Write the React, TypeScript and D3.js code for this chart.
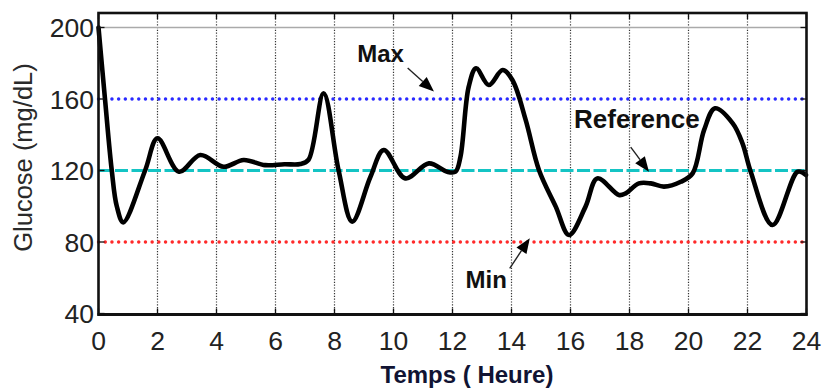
import React from "react";
import * as d3 from "d3";

// Glucose readings over one day
const hours = [
  0, 0.22, 0.45, 0.62, 0.84, 1.58, 2.0, 2.73, 3.45, 4.24, 4.92, 5.65, 6.3,
  6.84, 7.12, 7.63, 8.14, 8.6, 9.22, 9.67, 10.4, 11.2, 11.82, 12.1,
  12.27, 12.55, 12.8, 13.23, 13.7, 14.03, 14.48, 14.93, 15.5, 15.95, 16.51,
  16.91, 17.64, 17.87, 18.32, 18.72, 19.17, 19.74, 20.14, 20.53, 20.9, 21.5,
  21.83, 22.11, 22.85, 23.7, 23.98,
];
const glucose = [
  200, 160, 120, 100, 91, 120, 138, 119.3, 128.7, 122.1, 125.9, 123, 123.5,
  123.6, 126, 163.2, 120, 91.4, 116.5, 131.5, 115.6, 124, 119.3,
  119.3, 127.7, 166.9, 177.2, 167.8, 176.2, 170.6, 148.3, 120.3, 99.8, 83.9,
  99.8, 115.6, 106.3, 107.2, 112.8, 112.8, 111, 113.7, 118.4, 142.7, 154.8,
  146.4, 135.2, 119.3, 89.5, 119.3, 117.5,
];

const xTicks = [0, 2, 4, 6, 8, 10, 12, 14, 16, 18, 20, 22, 24];
const yTicks = [40, 80, 120, 160, 200];

const maxLevel = 160;
const refLevel = 120;
const minLevel = 80;

// Annotation labels: text anchor and arrow (from -> to), in data units
const annotations = [
  { text: "Max", size: 24, tx: 8.77, tv: 180.7, fx: 10.48, fv: 177.3, ax: 11.37, av: 164.2 },
  { text: "Reference", size: 26, tx: 16.12, tv: 143.8, fx: 18.04, fv: 133.1, ax: 18.66, av: 119.3 },
  { text: "Min", size: 24, tx: 12.44, tv: 54.3, fx: 13.94, fv: 65.3, ax: 14.62, av: 82.1 },
];

const W = 827;
const H = 390;
const left = 98.5;
const right = 806.5;
const top = 13;
const bottom = 314.5;

export default function App() {
  const x = d3.scaleLinear().domain([0, 24]).range([left, right]);
  const y = d3.scaleLinear().domain([40, 200]).range([313.5, 27.5]);

  const pts = hours.map((h, i) => [h, glucose[i]] as [number, number]);
  const line = d3
    .line<[number, number]>()
    .x((d) => x(d[0]))
    .y((d) => y(d[1]))
    .curve(d3.curveCatmullRom.alpha(0.5));

  const arrow = (fx: number, fy: number, tx: number, ty: number) => {
    const dx = tx - fx;
    const dy = ty - fy;
    const len = Math.hypot(dx, dy);
    const ux = dx / len;
    const uy = dy / len;
    const hl = 15;
    const hw = 6;
    const bx = tx - ux * hl;
    const by = ty - uy * hl;
    const head = `M${tx},${ty}L${bx - uy * hw},${by + ux * hw}L${bx + uy * hw},${by - ux * hw}Z`;
    return { bx, by, head };
  };

  return (
    <svg
      width={W}
      height={H}
      style={{ position: "absolute", left: 0, top: 0, background: "#fff" }}
      fontFamily="'Liberation Sans', Arial, sans-serif"
    >
      {/* vertical dotted grid */}
      {xTicks.slice(1, -1).map((t) => (
        <line
          key={"g" + t}
          x1={x(t)}
          x2={x(t)}
          y1={top}
          y2={bottom}
          stroke="#333"
          strokeWidth={1.2}
          strokeDasharray="1.2 1.6"
        />
      ))}
      {/* light line at 200 */}
      <line x1={left} x2={right} y1={y(200)} y2={y(200)} stroke="#aaa" strokeWidth={1.5} />

      {/* threshold lines */}
      <line
        x1={left}
        x2={right}
        y1={y(maxLevel)}
        y2={y(maxLevel)}
        stroke="#2a2aff"
        strokeWidth={3.4}
        strokeLinecap="round"
        strokeDasharray="0.1 6.6"
      />
      <line
        x1={left}
        x2={right}
        y1={y(refLevel)}
        y2={y(refLevel)}
        stroke="#14c4c4"
        strokeWidth={3}
        strokeDasharray="13 3.5"
      />
      <line
        x1={left}
        x2={right}
        y1={y(minLevel)}
        y2={y(minLevel)}
        stroke="#ff2a2a"
        strokeWidth={3.4}
        strokeLinecap="round"
        strokeDasharray="0.1 6.6"
      />

      {/* glucose curve */}
      <path
        d={line(pts) || ""}
        fill="none"
        stroke="#000"
        strokeWidth={4.6}
        strokeLinejoin="round"
        strokeLinecap="round"
      />

      {/* frame */}
      <rect
        x={left}
        y={top}
        width={right - left}
        height={bottom - top}
        fill="none"
        stroke="#111"
        strokeWidth={2.6}
      />
      <line x1={left - 1} x2={right + 1} y1={bottom} y2={bottom} stroke="#111" strokeWidth={3.2} />

      {/* ticks */}
      {xTicks.map((t) => (
        <g key={"xt" + t}>
          <line x1={x(t)} x2={x(t)} y1={bottom} y2={bottom - 6} stroke="#111" strokeWidth={1.3} />
          <line x1={x(t)} x2={x(t)} y1={top} y2={top + 6} stroke="#111" strokeWidth={1.3} />
        </g>
      ))}
      {yTicks.map((t) => (
        <g key={"yt" + t}>
          <line x1={left} x2={left + 6} y1={y(t)} y2={y(t)} stroke="#111" strokeWidth={1.3} />
          <line x1={right} x2={right - 6} y1={y(t)} y2={y(t)} stroke="#111" strokeWidth={1.3} />
        </g>
      ))}

      {/* tick labels */}
      {xTicks.map((t) => (
        <text key={"xl" + t} x={x(t)} y={350} textAnchor="middle" fontSize={26.5} fill="#222">
          {t}
        </text>
      ))}
      {yTicks.map((t) => (
        <text
          key={"yl" + t}
          x={94}
          y={y(t) + 9.5}
          textAnchor="end"
          fontSize={26.5}
          fill="#222"
        >
          {t}
        </text>
      ))}

      {/* axis titles */}
      <text
        transform={`translate(32,157.5) rotate(-90)`}
        textAnchor="middle"
        fontSize={25.5}
        fill="#2a2a2a"
      >
        Glucose (mg/dL)
      </text>
      <text x={467} y={383} textAnchor="middle" fontSize={24} fontWeight="bold" fill="#111433">
        Temps ( Heure)
      </text>

      {/* annotations */}
      {annotations.map((a) => {
        const fx = x(a.fx);
        const fy = y(a.fv);
        const tx = x(a.ax);
        const ty = y(a.av);
        const ar = arrow(fx, fy, tx, ty);
        return (
          <g key={a.text}>
            <text x={x(a.tx)} y={y(a.tv)} fontSize={a.size} fontWeight="bold" fill="#111">
              {a.text}
            </text>
            <line x1={fx} y1={fy} x2={ar.bx} y2={ar.by} stroke="#222" strokeWidth={1.4} />
            <path d={ar.head} fill="#000" />
          </g>
        );
      })}
    </svg>
  );
}
